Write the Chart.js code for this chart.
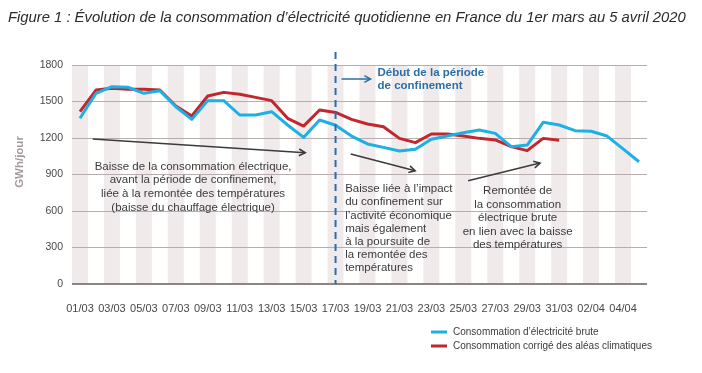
<!DOCTYPE html>
<html><head><meta charset="utf-8">
<script src="https://cdn.jsdelivr.net/npm/chart.js@4/dist/chart.umd.min.js"></script>
<style>html,body{margin:0;padding:0;background:#fff}#wrap{position:relative;width:702px;height:373px}</style>
</head><body><div id="wrap"><canvas id="c" width="702" height="373"></canvas></div>
<script>
const dates = ["01/03","02/03","03/03","04/03","05/03","06/03","07/03","08/03","09/03","10/03","11/03","12/03","13/03","14/03","15/03","16/03","17/03","18/03","19/03","20/03","21/03","22/03","23/03","24/03","25/03","26/03","27/03","28/03","29/03","30/03","31/03","01/04","02/04","03/04","04/04","05/04"];
const brute = [1362,1567,1622,1617,1567,1589,1457,1353,1507,1507,1389,1389,1416,1307,1205,1348,1305,1216,1151,1123,1093,1107,1189,1216,1244,1266,1238,1129,1142,1329,1307,1260,1255,1216,1110,1005];
const corrige = [1416,1594,1608,1600,1600,1594,1463,1381,1545,1575,1559,1534,1507,1362,1298,1430,1410,1353,1315,1293,1197,1162,1233,1233,1216,1197,1184,1129,1096,1197,1181,null,null,null,null,null];
const yTicks = [0,300,600,900,1200,1500,1800];
const seriesNames = ["Consommation d’électricité brute","Consommation corrigé des aléas climatiques"];
const seriesColors = ["#1cb0e4","#c1272d"];
const titleText = "Figure 1 : Évolution de la consommation d’électricité quotidienne en France du 1er mars au 5 avril 2020";
const yAxisTitle = "GWh/jour";
const confinementDate = "17/03";
const confinementText = ["Début de la période","de confinement"];
const note1 = ["Baisse de la consommation électrique,","avant la période de confinement,","liée à la remontée des températures","(baisse du chauffage électrique)"];
const note2 = ["Baisse liée à l’impact","du confinement sur","l’activité économique","mais également","à la poursuite de","la remontée des","températures"];
const note3 = ["Remontée de","la consommation","électrique brute","en lien avec la baisse","des températures"];
// annotation anchors in data space: [categoryIndex, value]
const arrows = [[[0.8,1192],[14.1,1079]],[[16.95,1068],[20.98,931]],[[24.3,849],[28.8,994]]];

const FONT = "'Liberation Sans', Arial, sans-serif";

function arrowHead(ctx, x1, y1, x2, y2, size){
  const a = Math.atan2(y2-y1, x2-x1);
  ctx.beginPath();
  ctx.moveTo(x2 - size*Math.cos(a-0.5), y2 - size*Math.sin(a-0.5));
  ctx.lineTo(x2, y2);
  ctx.lineTo(x2 - size*Math.cos(a+0.5), y2 - size*Math.sin(a+0.5));
  ctx.stroke();
}

const decor = {
  id: 'decor',
  beforeDraw(chart){
    const {ctx, chartArea:a, scales:{x}} = chart;
    const w = (a.right - a.left)/dates.length;
    ctx.save();
    ctx.fillStyle = '#f0eaeb';
    dates.forEach((d,i)=>{ if(i%2===0){ const cx = x.getPixelForValue(i); ctx.fillRect(cx-w/2, a.top, w, a.bottom-a.top);} });
    ctx.restore();
  },
  afterDatasetsDraw(chart){
    const {ctx, chartArea:a, scales:{x,y}} = chart;
    ctx.save();
    // confinement dashed line
    const cx = x.getPixelForValue(dates.indexOf(confinementDate));
    ctx.strokeStyle = '#2b6ea6'; ctx.lineWidth = 2; ctx.setLineDash([7,5]);
    ctx.beginPath(); ctx.moveTo(cx, a.top-13); ctx.lineTo(cx, a.bottom); ctx.stroke();
    ctx.setLineDash([]);
    // confinement arrow + text
    const ay = a.top + 14;
    ctx.lineWidth = 1.5;
    ctx.beginPath(); ctx.moveTo(cx+6, ay); ctx.lineTo(cx+35, ay); ctx.stroke();
    arrowHead(ctx, cx+6, ay, cx+35, ay, 7);
    ctx.fillStyle = '#2b6ea6'; ctx.font = 'bold 11.5px '+FONT; ctx.textBaseline='middle'; ctx.textAlign='left';
    confinementText.forEach((t,i)=> ctx.fillText(t, cx+42, a.top+8+i*12.5));
    // dark arrows
    ctx.strokeStyle = '#3d3a3b'; ctx.lineWidth = 1.6;
    arrows.forEach(([p,q])=>{
      const x1=x.getPixelForValue(p[0]), y1=y.getPixelForValue(p[1]);
      const x2=x.getPixelForValue(q[0]), y2=y.getPixelForValue(q[1]);
      ctx.beginPath(); ctx.moveTo(x1,y1); ctx.lineTo(x2,y2); ctx.stroke();
      arrowHead(ctx,x1,y1,x2,y2,7);
    });
    // notes
    ctx.fillStyle = '#3d3a3b'; ctx.font = '11.5px '+FONT;
    ctx.textAlign='center';
    note1.forEach((t,i)=> ctx.fillText(t, x.getPixelForValue(7.08), y.getPixelForValue(966)+i*13.8));
    ctx.textAlign='left';
    note2.forEach((t,i)=> ctx.fillText(t, x.getPixelForValue(16.6), y.getPixelForValue(781)+i*13.2));
    ctx.textAlign='center';
    note3.forEach((t,i)=> ctx.fillText(t, x.getPixelForValue(27.4), y.getPixelForValue(764)+i*13.5));
    ctx.restore();
  },
  afterDraw(chart){
    const {ctx} = chart;
    ctx.save();
    // title
    ctx.fillStyle = '#2b2b2b'; ctx.font = 'italic 14.8px '+FONT; ctx.textBaseline='middle'; ctx.textAlign='left';
    ctx.fillText(titleText, 8, 18);
    // y title
    ctx.translate(20, 162); ctx.rotate(-Math.PI/2);
    ctx.fillStyle = '#a39a9b'; ctx.font = 'bold 11.5px '+FONT; ctx.textAlign='center';
    ctx.fillText(yAxisTitle, 0, 0);
    ctx.restore();
    // legend
    ctx.save();
    ctx.font = '10px '+FONT; ctx.textBaseline='middle'; ctx.textAlign='left';
    chart.data.datasets.forEach((ds,i)=>{
      const ly = 332 + i*14;
      ctx.strokeStyle = ds.borderColor; ctx.lineWidth = 3;
      ctx.beginPath(); ctx.moveTo(431, ly); ctx.lineTo(447, ly); ctx.stroke();
      ctx.fillStyle = '#3d3a3b'; ctx.fillText(ds.label, 453, ly);
    });
    ctx.restore();
  }
};

new Chart(document.getElementById('c'), {
  type: 'line',
  data: {
    labels: dates,
    datasets: [
      {label: seriesNames[0], data: brute, borderColor: seriesColors[0], backgroundColor: seriesColors[0], borderWidth: 3, pointRadius: 0, tension: 0, borderJoinStyle:'round'},
      {label: seriesNames[1], data: corrige, borderColor: seriesColors[1], backgroundColor: seriesColors[1], borderWidth: 3, pointRadius: 0, tension: 0, borderJoinStyle:'round'}
    ]
  },
  options: {
    responsive: false, animation: false, devicePixelRatio: 1,
    layout: {padding: {top: 65, right: 55, bottom: 59, left: 0}},
    plugins: {legend: {display: false}, title: {display: false}, tooltip: {enabled: false}},
    scales: {
      x: {
        offset: true,
        grid: {display: false},
        border: {display: false},
        afterFit(s){ s.height = 30; },
        ticks: {autoSkip: false, maxRotation: 0, minRotation: 0, padding: 10, color: '#4a4646',
          font: {family: FONT, size: 11},
          callback(v, i){ return i%2===0 ? dates[i] : ''; }}
      },
      y: {
        min: 0, max: 1800,
        afterFit(s){ s.width = 72; },
        afterBuildTicks(s){ s.ticks = yTicks.map(v=>({value:v})); },
        border: {display: false},
        grid: {drawTicks: false,
          color: c => c.tick && c.tick.value===0 ? '#8c8485' : '#b7adae',
          lineWidth: c => c.tick && c.tick.value===0 ? 2 : 1},
        ticks: {padding: 9, color: '#4a4646', font: {family: FONT, size: 10.5},
          callback: v => String(v)}
      }
    }
  },
  plugins: [decor]
});
</script></body></html>
